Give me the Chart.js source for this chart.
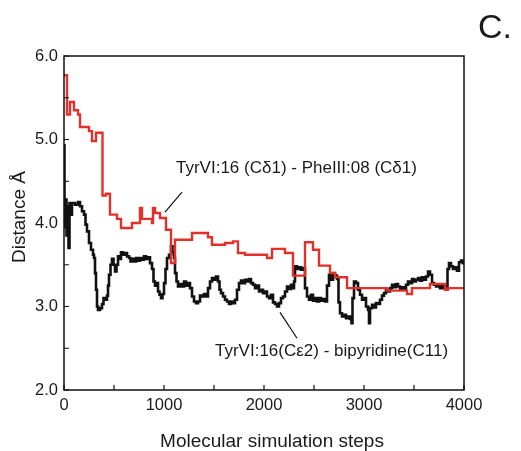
<!DOCTYPE html>
<html>
<head>
<meta charset="utf-8">
<script src="https://cdn.jsdelivr.net/npm/chart.js@4.4.0/dist/chart.umd.min.js"></script>
<style>
  body { margin: 0; background: #fff; }
  canvas { display: block; }
</style>
</head>
<body>
<canvas id="distance-chart" width="521" height="451"></canvas>
<script>
// red trace: TyrVI:16 (Cd1) - PheIII:08 (Cd1), step where each level starts
const redSteps = [0, 30, 60, 100, 140, 160, 250, 280, 320, 385, 420, 460, 530, 570, 680, 760, 780, 880, 890, 910, 960, 1020, 1070, 1110, 1280, 1440, 1480, 1610, 1690, 1740, 1810, 2030, 2080, 2210, 2290, 2410, 2490, 2550, 2660, 2710, 2830, 3230, 3430, 3480, 3660, 3810, 3840, 4000];
const redValues = [5.77, 5.30, 5.45, 5.35, 5.30, 5.15, 5.10, 4.98, 5.08, 4.33, 4.35, 4.10, 4.05, 3.94, 4.00, 4.18, 4.05, 4.00, 4.18, 4.12, 4.06, 3.92, 3.52, 3.80, 3.88, 3.83, 3.74, 3.76, 3.78, 3.64, 3.62, 3.58, 3.69, 3.64, 3.37, 3.77, 3.68, 3.49, 3.40, 3.35, 3.22, 3.19, 3.15, 3.22, 3.27, 3.20, 3.22, 3.22];

// black trace: TyrVI:16 (Ce2) - bipyridine (C11)
const blackSteps = [
    0, 5, 15, 25, 35, 45, 55, 70, 80, 110,
    140, 160, 180, 200, 215, 230, 250, 270, 290, 300,
    310, 320, 330, 340, 360, 380, 395, 410, 430, 440,
    450, 465, 480, 495, 510, 525, 540, 555, 570, 590,
    610, 630, 650, 665, 680, 700, 720, 740, 760, 780,
    800, 820, 840, 860, 880, 895, 910, 925, 940, 955,
    970, 985, 1000, 1015, 1030, 1050, 1070, 1085, 1100, 1110,
    1125, 1140, 1160, 1180, 1200, 1220, 1240, 1260, 1280, 1300,
    1320, 1340, 1360, 1380, 1400, 1420, 1440, 1460, 1480, 1500,
    1520, 1540, 1555, 1570, 1590, 1610, 1630, 1650, 1670, 1690,
    1710, 1730, 1750, 1770, 1790, 1810, 1830, 1850, 1870, 1890,
    1910, 1930, 1950, 1970, 1990, 2010, 2030, 2050, 2070, 2090,
    2110, 2130, 2150, 2170, 2190, 2210, 2230, 2250, 2270, 2290,
    2300, 2310, 2330, 2350, 2370, 2390, 2410, 2430, 2450, 2470,
    2490, 2510, 2530, 2550, 2570, 2590, 2610, 2630, 2650, 2670,
    2690, 2710, 2730, 2745, 2760, 2780, 2800, 2820, 2840, 2860,
    2875, 2885, 2900, 2920, 2940, 2960, 2980, 3000, 3020, 3040,
    3050, 3060, 3080, 3100, 3120, 3140, 3160, 3180, 3200, 3220,
    3240, 3260, 3280, 3300, 3320, 3340, 3360, 3380, 3400, 3420,
    3440, 3460, 3480, 3500, 3520, 3540, 3560, 3580, 3600, 3620,
    3640, 3660, 3680, 3700, 3720, 3740, 3760, 3780, 3800, 3820,
    3835, 3850, 3870, 3890, 3910, 3930, 3950, 3970, 3990, 4000
];
const blackValues = [
    4.93, 3.95, 4.28, 3.85, 4.20, 3.70, 4.24, 4.10, 4.24, 4.22,
    4.25, 4.20, 4.14, 4.10, 3.98, 3.90, 3.76, 3.68, 3.62, 3.58,
    3.40, 3.20, 3.00, 2.96, 2.98, 3.03, 3.10, 3.08, 3.13, 3.25,
    3.38, 3.50, 3.57, 3.50, 3.42, 3.50, 3.60, 3.57, 3.65, 3.62,
    3.64, 3.60, 3.58, 3.54, 3.57, 3.54, 3.58, 3.55, 3.58, 3.56,
    3.60, 3.57, 3.59, 3.52, 3.45, 3.30, 3.25, 3.28, 3.18, 3.14,
    3.10, 3.15, 3.28, 3.45, 3.58, 3.62, 3.72, 3.65, 3.58, 3.40,
    3.30, 3.24, 3.27, 3.24, 3.30, 3.25, 3.28, 3.22, 3.12, 3.06,
    3.04, 3.06, 3.13, 3.12, 3.15, 3.12, 3.22, 3.30, 3.34, 3.32,
    3.36, 3.30, 3.20, 3.16, 3.12, 3.08, 3.06, 3.03, 3.06, 3.04,
    3.08, 3.20, 3.28, 3.31, 3.28, 3.32, 3.30, 3.33, 3.28, 3.26,
    3.22, 3.25, 3.18, 3.20, 3.16, 3.18, 3.12, 3.10, 3.14, 3.05,
    3.03, 3.00, 3.04, 3.10, 3.12, 3.18, 3.24, 3.21, 3.26, 3.22,
    3.30, 3.48, 3.45, 3.47, 3.44, 3.46, 3.22, 3.12, 3.08, 3.14,
    3.07, 3.10, 3.06, 3.10, 3.07, 3.09, 3.06, 3.25, 3.38, 3.32,
    3.40, 3.37, 3.33, 3.05, 2.92, 2.88, 2.90, 2.86, 2.88, 2.85,
    2.80, 3.10, 3.30, 3.28, 3.20, 3.14, 3.08, 3.10, 3.00, 2.96,
    2.80, 2.98, 3.02, 2.99, 3.04, 3.03, 3.08, 3.13, 3.16, 3.20,
    3.18, 3.22, 3.26, 3.23, 3.27, 3.24, 3.20, 3.23, 3.21, 3.26,
    3.30, 3.28, 3.33, 3.30, 3.32, 3.34, 3.31, 3.35, 3.32, 3.36,
    3.42, 3.38, 3.28, 3.26, 3.24, 3.26, 3.22, 3.25, 3.22, 3.24,
    3.45, 3.52, 3.48, 3.45, 3.47, 3.43, 3.53, 3.55, 3.52, 3.55
];

// axis ticks
const xMajorTicks = [0, 1000, 2000, 3000, 4000];
const xMinorTicks = [500, 1500, 2500, 3500];
const yMajorTicks = [2, 3, 4, 5, 6];
const yMinorTicks = [2.5, 3.5, 4.5, 5.5];

const FONT = '"Liberation Sans", Arial, sans-serif';
const INK = '#1a1a1a';

function toPoints(xs, ys) {
    return xs.map(function (x, i) { return { x: x, y: ys[i] }; });
}

// frame, inward ticks, labels and leader lines
const decorations = {
    id: 'decorations',
    afterDraw(chart) {
        const ctx = chart.ctx;
        const area = chart.chartArea;
        const xs = chart.scales.x;
        const ys = chart.scales.y;
        ctx.save();

        // box round the plot
        ctx.strokeStyle = '#111';
        ctx.lineWidth = 1.5;
        ctx.strokeRect(area.left, area.top, area.right - area.left, area.bottom - area.top);

        // inward ticks on the bottom and left axes
        ctx.lineWidth = 1.2;
        ctx.beginPath();
        xMajorTicks.concat(xMinorTicks).forEach(function (v) {
            const px = xs.getPixelForValue(v);
            ctx.moveTo(px, area.bottom);
            ctx.lineTo(px, area.bottom - 5);
        });
        yMajorTicks.concat(yMinorTicks).forEach(function (v) {
            const py = ys.getPixelForValue(v);
            ctx.moveTo(area.left, py);
            ctx.lineTo(area.left + 5, py);
        });
        ctx.stroke();

        // leader lines for the two labels
        ctx.lineWidth = 1.2;
        ctx.beginPath();
        ctx.moveTo(xs.getPixelForValue(1180), ys.getPixelForValue(4.37));
        ctx.lineTo(xs.getPixelForValue(1010), ys.getPixelForValue(4.13));
        ctx.moveTo(xs.getPixelForValue(2160), ys.getPixelForValue(2.93));
        ctx.lineTo(xs.getPixelForValue(2330), ys.getPixelForValue(2.62));
        ctx.stroke();

        // series labels
        ctx.fillStyle = INK;
        ctx.textBaseline = 'alphabetic';
        ctx.textAlign = 'left';
        ctx.font = '17px ' + FONT;
        ctx.fillText('TyrVI:16 (C\u03b41) - PheIII:08 (C\u03b41)', xs.getPixelForValue(1120), ys.getPixelForValue(4.60));
        ctx.fillText('TyrVI:16(C\u03b52) - bipyridine(C11)', xs.getPixelForValue(1510), ys.getPixelForValue(2.41));

        // axis titles
        ctx.font = '19px ' + FONT;
        ctx.textAlign = 'center';
        ctx.fillText('Molecular simulation steps', (area.left + area.right) / 2 + 8, 447);
        ctx.save();
        ctx.translate(25, 217);
        ctx.rotate(-Math.PI / 2);
        ctx.fillText('Distance \u00c5', 0, 0);
        ctx.restore();

        // panel letter
        ctx.textAlign = 'left';
        ctx.font = '34px ' + FONT;
        ctx.fillText('C.', 478, 38);

        ctx.restore();
    }
};

const ctx = document.getElementById('distance-chart').getContext('2d');
const distanceChart = new Chart(ctx, {
    type: 'scatter',
    data: {
        datasets: [{
            label: 'TyrVI:16 (Cd1) - PheIII:08 (Cd1)',
            data: toPoints(redSteps, redValues),
            showLine: true,
            stepped: 'before',
            borderColor: '#e2312b',
            borderWidth: 2.4,
            pointRadius: 0,
            fill: false
        }, {
            label: 'TyrVI:16(Ce2) - bipyridine(C11)',
            data: toPoints(blackSteps, blackValues),
            showLine: true,
            stepped: 'before',
            borderColor: '#111111',
            borderWidth: 2.6,
            pointRadius: 0,
            fill: false
        }]
    },
    plugins: [decorations],
    options: {
        responsive: false,
        animation: false,
        layout: {
            padding: { top: 56, right: 57, left: 0, bottom: 0 }
        },
        plugins: {
            legend: { display: false },
            tooltip: { enabled: false }
        },
        scales: {
            x: {
                type: 'linear',
                min: 0,
                max: 4000,
                grid: { display: false, drawTicks: false },
                border: { display: false },
                afterBuildTicks: function (scale) {
                    scale.ticks = xMajorTicks.map(function (v) { return { value: v }; });
                },
                afterFit: function (scale) { scale.height = 61; },
                ticks: {
                    color: INK,
                    padding: 6,
                    maxRotation: 0,
                    font: { size: 16.5, family: FONT },
                    callback: function (value) { return value; }
                }
            },
            y: {
                min: 2,
                max: 6,
                grid: { display: false, drawTicks: false },
                border: { display: false },
                afterBuildTicks: function (scale) {
                    scale.ticks = yMajorTicks.map(function (v) { return { value: v }; });
                },
                afterFit: function (scale) { scale.width = 64; },
                ticks: {
                    color: INK,
                    padding: 6,
                    font: { size: 16.5, family: FONT },
                    callback: function (value) { return value.toFixed(1); }
                }
            }
        }
    }
});
</script>
</body>
</html>
